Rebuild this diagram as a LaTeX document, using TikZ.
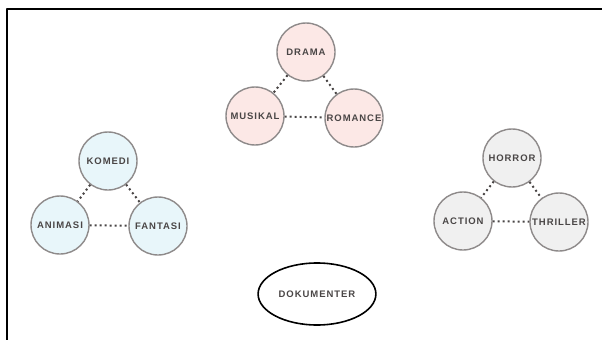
\documentclass[tikz,border=0pt]{standalone}
\usepackage{fontspec}
\newfontfamily\genrefont{Liberation Sans}[LetterSpace=10]
\usepackage{tikz}
\usetikzlibrary{shapes.geometric}
\definecolor{pinkfill}{HTML}{FCE8E6}
\definecolor{bluefill}{HTML}{E8F6FA}
\definecolor{greyfill}{HTML}{F0F0F0}
\definecolor{ringgrey}{HTML}{8E8A8A}
\definecolor{inkgrey}{HTML}{4A4646}

\begin{document}
\begin{tikzpicture}[x=1pt,y=-1pt,line cap=round,line join=round,
    font=\genrefont\bfseries\fontsize{9.5}{9.5}\selectfont,
    genre/.style={circle,draw=ringgrey,line width=1.4pt,minimum size=58pt,inner sep=0pt,text=inkgrey},
    link/.style={draw=inkgrey,line width=2pt,line cap=butt,dash pattern=on 2pt off 3pt}]
        \useasboundingbox (0,0) rectangle (611,340);
        \draw[line width=2pt,line cap=butt] (6.5,341) -- (6.5,8.5) -- (602,8.5);
        % drama group
        \node[genre,fill=pinkfill] (drama) at (306,52) {DRAMA};
        \node[genre,fill=pinkfill] (musikal) at (255,116) {MUSIKAL};
        \node[genre,fill=pinkfill] (romance) at (354,118) {ROMANCE};
        % komedi group
        \node[genre,fill=bluefill] (komedi) at (108,161) {KOMEDI};
        \node[genre,fill=bluefill] (animasi) at (60,225) {ANIMASI};
        \node[genre,fill=bluefill] (fantasi) at (158,226) {FANTASI};
        % horror group
        \node[genre,fill=greyfill] (horror) at (512,158) {HORROR};
        \node[genre,fill=greyfill] (action) at (463,221) {ACTION};
        \node[genre,fill=greyfill] (thriller) at (559,222) {THRILLER};
        \node[ellipse,draw,line width=1.6pt,minimum width=114pt,minimum height=62pt,text=inkgrey] (dokumenter) at (317,294) {DOKUMENTER};
        \draw[link] (drama) -- (musikal);
        \draw[link] (drama) -- (romance);
        \draw[link] (musikal) -- (romance);
        \draw[link] (komedi) -- (animasi);
        \draw[link] (komedi) -- (fantasi);
        \draw[link] (animasi) -- (fantasi);
        \draw[link] (horror) -- (action);
        \draw[link] (horror) -- (thriller);
        \draw[link] (action) -- (thriller);
    \end{tikzpicture}
\end{document}
